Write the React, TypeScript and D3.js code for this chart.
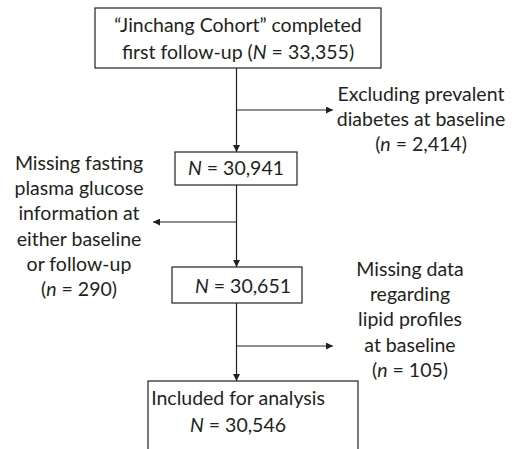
import React, { useEffect, useRef } from "react";
import * as d3 from "d3";

// ---- data ----
const mainBoxes = [
  { lines: [[{ t: "\u201CJinchang Cohort\u201D completed" }], [{ t: "first follow-up (" }, { t: "N", i: true }, { t: " = 33,355)" }]] },
  { lines: [[{ t: "N", i: true }, { t: " = 30,941" }]] },
  { lines: [[{ t: "N", i: true }, { t: " = 30,651" }]] },
  { lines: [[{ t: "Included for analysis" }], [{ t: "N", i: true }, { t: " = 30,546" }]] },
];
const exclusions = [
  { side: "right", lines: [[{ t: "Excluding prevalent" }], [{ t: "diabetes at baseline" }], [{ t: "(" }, { t: "n", i: true }, { t: " = 2,414)" }]] },
  { side: "left", lines: [[{ t: "Missing fasting" }], [{ t: "plasma glucose" }], [{ t: "information at" }], [{ t: "either baseline" }], [{ t: "or follow-up" }], [{ t: "(" }, { t: "n", i: true }, { t: " = 290)" }]] },
  { side: "right", lines: [[{ t: "Missing data" }], [{ t: "regarding" }], [{ t: "lipid profiles" }], [{ t: "at baseline" }], [{ t: "(" }, { t: "n", i: true }, { t: " = 105)" }]] },
];

// ---- layout (pixels) ----
const boxGeo = [
  { x0: 95, x1: 381, y0: 8, y1: 68, ty: 25, tx: 238, lh: 27 },
  { x0: 175, x1: 297, y0: 152, y1: 185, ty: 168, tx: 236, lh: 27 },
  { x0: 172, x1: 302, y0: 267, y1: 303, ty: 286, tx: 243, lh: 27 },
  { x0: 148, x1: 358, y0: 381, y1: 470, ty: 398, tx: 238, lh: 27 },
];
const exGeo = [
  { by: 110, tip: 333, tx: 421, ty: 94 },
  { by: 222, tip: 153, tx: 79, ty: 163 },
  { by: 346, tip: 333, tx: 410, ty: 269 },
];
const SPINE_X = 236.5;
const LINE_H = 25.3;
const INK = "#231f20";
const FONT = "Lato, 'Open Sans', sans-serif";
const FS = 19.5;

export default function App() {
  const ref = useRef<SVGSVGElement>(null);
  useEffect(() => {
    const svg = d3.select(ref.current);
    svg.selectAll("*").remove();
    const defs = svg.append("defs");
    defs
      .append("marker")
      .attr("id", "ah")
      .attr("viewBox", "0 0 10 10")
      .attr("refX", 10)
      .attr("refY", 5)
      .attr("markerWidth", 7)
      .attr("markerHeight", 7)
      .attr("markerUnits", "userSpaceOnUse")
      .attr("orient", "auto")
      .append("path")
      .attr("d", "M0,0 L10,5 L0,10 Z")
      .attr("fill", INK);

    const line = d3.line<[number, number]>();
    const g = svg.append("g");

    const addText = (x: number, y: number, ln: any[]) => {
      const t = g
        .append("text")
        .attr("x", x)
        .attr("y", y)
        .attr("dy", "0.35em")
        .attr("text-anchor", "middle")
        .attr("font-family", FONT)
        .attr("font-size", FS)
        .attr("fill", INK);
      ln.forEach((s: any) => {
        t.append("tspan").attr("font-style", s.i ? "italic" : "normal").text(s.t);
      });
    };

    // boxes
    mainBoxes.forEach((b, i) => {
      const gg = boxGeo[i];
      g.append("rect")
        .attr("x", gg.x0)
        .attr("y", gg.y0)
        .attr("width", gg.x1 - gg.x0)
        .attr("height", gg.y1 - gg.y0)
        .attr("fill", "white")
        .attr("stroke", INK)
        .attr("stroke-width", 1.2);
      b.lines.forEach((ln, li) => addText(gg.tx, gg.ty + li * gg.lh, ln));
    });

    // spine arrows
    for (let i = 0; i < boxGeo.length - 1; i++) {
      g.append("path")
        .attr("d", line([[SPINE_X, boxGeo[i].y1], [SPINE_X, boxGeo[i + 1].y0]]))
        .attr("stroke", INK)
        .attr("stroke-width", 1.2)
        .attr("fill", "none")
        .attr("marker-end", "url(#ah)");
    }

    // exclusion branches
    exclusions.forEach((e, i) => {
      const gg = exGeo[i];
      g.append("path")
        .attr("d", line([[SPINE_X, gg.by], [gg.tip, gg.by]]))
        .attr("stroke", INK)
        .attr("stroke-width", 1.2)
        .attr("fill", "none")
        .attr("marker-end", "url(#ah)");
      e.lines.forEach((ln, li) => addText(gg.tx, gg.ty + li * LINE_H, ln));
    });
  }, []);

  return (
    <svg
      ref={ref}
      width={517}
      height={449}
      style={{ position: "absolute", left: 0, top: 0, background: "white" }}
    />
  );
}
